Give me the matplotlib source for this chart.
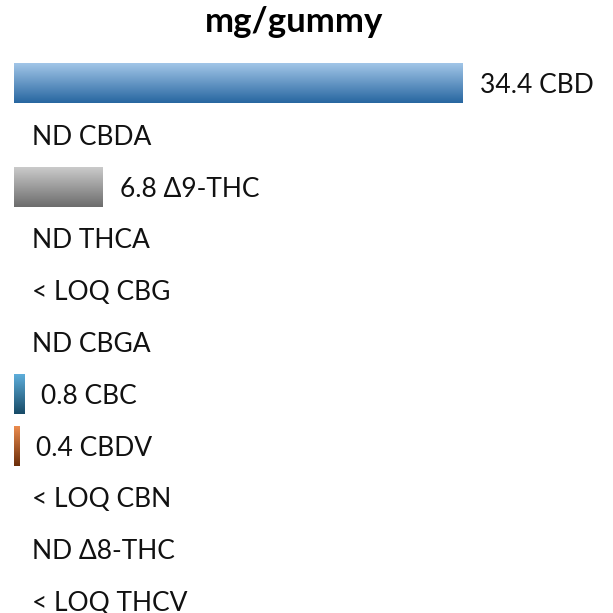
import numpy as np
import matplotlib.pyplot as plt
from matplotlib.colors import LinearSegmentedColormap

plt.rcParams['font.family'] = ['Lato', 'DejaVu Sans']

# data
compounds = ["CBD", "CBDA", "Δ9-THC", "THCA", "CBG", "CBGA", "CBC", "CBDV", "CBN", "Δ8-THC", "THCV"]
values = [34.4, 0, 6.8, 0, 0, 0, 0.8, 0.4, 0, 0, 0]
labels = ["34.4", "ND", "6.8", "ND", "< LOQ", "ND", "0.8", "0.4", "< LOQ", "ND", "< LOQ"]
grad_colors = {
    "CBD": ("#a2c6e8", "#2766a0"),
    "Δ9-THC": ("#cbcbcb", "#6c6c6c"),
    "CBC": ("#5eaedb", "#174a66"),
    "CBDV": ("#ec8c4e", "#6a2c08"),
}

W = H = 613
fig = plt.figure(figsize=(W / 100, H / 100), dpi=100)
ax = fig.add_axes([0, 0, 1, 1])

px_per_unit = 13.05
row_px = 51.8
x0_px = 14
y0_px = 83
ax.set_xlim(-x0_px / px_per_unit, (W - x0_px) / px_per_unit)
ax.set_ylim((H - y0_px) / row_px, -y0_px / row_px)
ax.axis("off")

bar_h = 0.77
grad = np.linspace(0, 1, 256).reshape(-1, 1)
for i, (name, v, lab) in enumerate(zip(compounds, values, labels)):
    if v > 0:
        top, bottom = grad_colors[name]
        cmap = LinearSegmentedColormap.from_list(name, [top, bottom])
        ax.imshow(grad, cmap=cmap, aspect="auto", interpolation="bilinear",
                  extent=[0, v, i + bar_h / 2, i - bar_h / 2], zorder=2)
        off = 17
    else:
        off = 18
    # baseline sits ~10px below the row centre
    ax.annotate(f"{lab} {name}", xy=(v, i), xytext=(off * 0.72, -10 * 0.72),
                textcoords="offset points", ha="left", va="baseline",
                fontsize=19, color="#111111")

fig.text(0.479, 1 - 32 / H, "mg/gummy", ha="center", va="baseline",
         fontsize=25, fontweight="bold", color="black")

fig.savefig("out.png", dpi=100)
